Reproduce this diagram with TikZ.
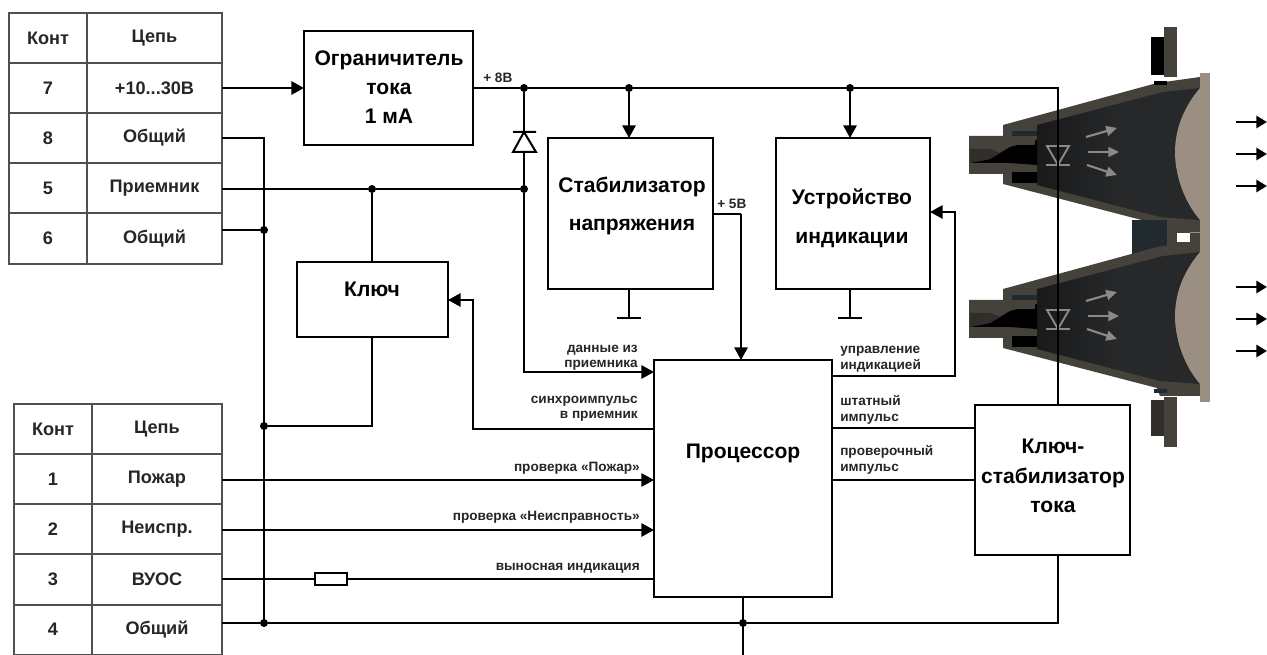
\documentclass[tikz,border=0pt]{standalone}
\usepackage{fontspec}
\setmainfont{Liberation Sans}
\usetikzlibrary{arrows.meta,calc}
\definecolor{wallc}{HTML}{45423C}
\definecolor{innerc}{HTML}{26282A}
\definecolor{lensc}{HTML}{9A8F82}
\definecolor{blockc}{HTML}{212A2E}
\definecolor{ledc}{HTML}{8A8A86}
\definecolor{tablec}{HTML}{505050}
\tikzset{
  wire/.style={line width=1.5pt,draw=black},
  arr/.style={wire,-{Triangle[length=9.5pt,width=10pt]}},
  blockbox/.style={draw,line width=1.4pt,fill=white,inner sep=0pt,outer sep=0pt},
  blocktext/.style={inner sep=0pt,align=center,font=\fontsize{15.8}{21.5}\selectfont\bfseries},
  cellbox/.style={draw=tablec,line width=1.2pt,inner sep=0pt,outer sep=0pt,font=\fontsize{13.6}{15}\selectfont\bfseries,text=black!85},
  lbl/.style={inner sep=0pt,text=black!85,font=\fontsize{10.2}{11.6}\selectfont\bfseries},
  dot/.style={circle,fill=black,inner sep=0pt,minimum size=6pt},
  ledarrow/.style={line width=1.6pt,draw=ledc,-{Triangle[length=8pt,width=7.5pt]}},
  outarrow/.style={line width=2pt,-{Triangle[length=8pt,width=9pt]}}
}
\newcommand{\cellat}[6]{% name x1 x2 y1 y2 text
  \node[cellbox,minimum width=#3pt*0.75-#2pt*0.75,minimum height=#5pt*0.75-#4pt*0.75,anchor=north west] (#1) at (#2,#4) {#6};}
\newcommand{\lenscone}[1]{%
\begin{scope}[yshift=#1]
  \fill[wallc] (969,136) -- (1003,136) -- (1003,125) -- (1157,83) -- (1200,77) -- (1200,232) -- (1160,232) -- (1157,224) -- (1003,184) -- (1003,174) -- (969,174) -- cycle;
  \shade[left color=black!90,right color=innerc,shading angle=90,middle color=innerc] (1037,125) -- (1163,92) -- (1200,88) -- (1200,220) -- (1160,217) -- (1037,185) -- cycle;
  \fill[blockc] (1012,131) rectangle (1037,136);
  \fill[black] (1012,172) rectangle (1037,183);
  \fill[black] (970,163) -- (990,159) -- (1010,147) -- (1037,140) -- (1037,165) -- (1010,163) -- cycle;
  \fill[wallc!70!black] (970,149) -- (990,149) -- (1000,153) -- (990,159) -- (970,163) -- cycle;
  \fill[wallc] (1010,139) rectangle (1035,145);
  \fill[wallc] (1010,166) rectangle (1035,171);
  \fill[lensc] (1200,88) .. controls (1183,108) and (1175,130) .. (1175,152) .. controls (1175,178) and (1186,204) .. (1200,220) -- cycle;
  \draw[line width=1.6pt,draw=ledc] (1058,107) -- (1058,198);
  \draw[line width=1.4pt,draw=ledc] (1047,146) -- (1069,146) -- (1058,165) -- cycle;
  \draw[line width=1.6pt,draw=ledc] (1046,165) -- (1070,165);
  \draw[ledarrow] (1086,137) -- (1117,128);
  \draw[ledarrow] (1088,152) -- (1119,152);
  \draw[ledarrow] (1087,165) -- (1117,175);
\end{scope}}
\begin{document}
\begin{tikzpicture}[x=0.75pt,y=-0.75pt]
\useasboundingbox (0,0) rectangle (1267,655);
% housing
\draw[wire] (1058,88) -- (1058,405);
\lenscone{0pt}
\fill[blockc] (1132,220) rectangle (1167,262);
\fill[wallc] (1167,220) rectangle (1177,262);
\fill[wallc] (1177,232) rectangle (1210,250);
\lenscone{-123pt}
\fill[white] (1177,233) rectangle (1190,242);
\fill[wallc] (1164,27) rectangle (1177,77);
\fill[black] (1151,37) rectangle (1164,75);
\fill[black] (1154,81) rectangle (1167,85);
\fill[wallc] (1164,397) rectangle (1177,447);
\fill[wallc!70!black] (1151,400) rectangle (1164,436);
\fill[blockc] (1154,389) rectangle (1167,393);
\fill[lensc] (1200,73) rectangle (1210,402);
\fill[lensc] (1190,232) rectangle (1200,233);
% output arrows
\foreach \yy/\nn in {122/a,154/b,186/c,287/d,319/e,351/f}{
  \coordinate (o\nn s) at (1236,\yy);
  \coordinate (o\nn e) at (1267,\yy);
  \draw[outarrow] (o\nn s) -- (o\nn e);
}
% upper table
\cellat{hk}{9}{87}{13}{63}{Конт}
\cellat{hc}{87}{222}{13}{63}{Цепь}
\cellat{k7}{9}{87}{63}{113}{7}
\cellat{c7}{87}{222}{63}{113}{+10...30В}
\cellat{k8}{9}{87}{113}{163}{8}
\cellat{c8}{87}{222}{113}{163}{Общий}
\cellat{k5}{9}{87}{163}{213}{5}
\cellat{c5}{87}{222}{163}{213}{Приемник}
\cellat{k6}{9}{87}{213}{264}{6}
\cellat{c6}{87}{222}{213}{264}{Общий}
% lower table
\cellat{hk2}{14}{92}{404}{454}{Конт}
\cellat{hc2}{92}{222}{404}{454}{Цепь}
\cellat{k1}{14}{92}{454}{504}{1}
\cellat{c1}{92}{222}{454}{504}{Пожар}
\cellat{k2}{14}{92}{504}{554}{2}
\cellat{c2}{92}{222}{504}{554}{Неиспр.}
\cellat{k3}{14}{92}{554}{605}{3}
\cellat{c3}{92}{222}{554}{605}{ВУОС}
\cellat{k4}{14}{92}{605}{654.5}{4}
\cellat{c4}{92}{222}{605}{654.5}{Общий}
% blocks
\node[blockbox,minimum width=126.75pt,minimum height=85.5pt,anchor=north west] (lim) at (304,31) {};
\node[blocktext] (limt) at (389,87) {Ограничитель\\тока\\1 мА};
\node[blockbox,minimum width=123.75pt,minimum height=113.25pt,anchor=north west] (stab) at (548,138) {};
\node[blocktext,font=\fontsize{15.8}{29}\selectfont\bfseries] (stabt) at (632,206) {Стабилизатор\\напряжения};
\node[blockbox,minimum width=115.5pt,minimum height=113.25pt,anchor=north west] (ind) at (776,138) {};
\node[blocktext,font=\fontsize{15.8}{29}\selectfont\bfseries] (indt) at (852,218) {Устройство\\индикации};
\node[blockbox,minimum width=113.25pt,minimum height=56.25pt,anchor=north west] (key) at (297,262) {};
\node[blocktext] (keyt) at (372,289) {Ключ};
\node[blockbox,minimum width=133.5pt,minimum height=177.75pt,anchor=north west] (proc) at (654,360) {};
\node[blocktext] (proct) at (743,453) {Процессор};
\node[blockbox,minimum width=116.25pt,minimum height=112.5pt,anchor=north west] (ks) at (975,405) {};
\node[blocktext,font=\fontsize{15.8}{22.2}\selectfont\bfseries] (kst) at (1053,476) {Ключ-\\стабилизатор\\тока};
% junction dots
\node[dot] (j1) at (524,88) {};
\node[dot] (j2) at (629,88) {};
\node[dot] (j3) at (850,88) {};
\node[dot] (j4) at (372,189) {};
\node[dot] (j5) at (524,189) {};
\node[dot] (j6) at (264,230) {};
\node[dot] (j7) at (264,426) {};
\node[dot] (j8) at (264,623) {};
\node[dot] (j9) at (743,623) {};
% coordinates
\coordinate (sup) at (1058,88);
\coordinate (gnd) at (1058,623);
\coordinate (pd) at (743,655);
\coordinate (gs) at (629,318);
\coordinate (gi) at (850,318);
% wires
\draw[arr] (c7.east |- 0,88) -- (lim.west |- 0,88);
\draw[wire] (lim.east |- 0,88) -- (j1) -- (j2) -- (j3) -- (sup) -- (ks.north -| sup);
\draw[arr] (j2) -- (stab.north -| j2);
\draw[arr] (j3) -- (ind.north -| j3);
\draw[wire] (j1) -- (j5);
\draw[arr] (j5) |- (proc.west |- 0,372);
\draw[wire,fill=white] (513,132) -- (536,132) (524,132) -- (513,152) -- (536,152) -- cycle;
\draw[wire] (c8.east |- 0,138) -| (j8);
\draw[wire] (c6.east |- 0,230) -- (j6);
\draw[wire] (c5.east |- 0,189) -- (j4) -- (j5);
\draw[wire] (j4) -- (key.north -| j4);
\draw[wire] (key.south -| j4) |- (j7);
\draw[arr] (proc.west |- 0,429) -| (473,300) -- (key.east |- 0,300);
\draw[arr] (c1.east |- 0,480) -- (proc.west |- 0,480);
\draw[arr] (c2.east |- 0,530) -- (proc.west |- 0,530);
\node[draw,line width=1.2pt,fill=white,minimum width=24pt,minimum height=9pt,inner sep=0pt] (res) at (331,579) {};
\draw[wire] (c3.east |- res) -- (res);
\draw[wire] (res) -- (proc.west |- res);
\draw[wire] (c4.east |- gnd) -- (j8) -- (j9) -- (gnd) -- (ks.south -| gnd);
\draw[wire] (proc.south -| pd) -- (pd);
\draw[wire] (stab.east |- 0,214) -- (741,214);
\draw[arr] (741,214) -- (proc.north -| 741,0);
\draw[wire] (stab.south -| gs) -- (gs);
\draw[line width=2.2pt] ($(gs)+(-12,0)$) -- ($(gs)+(12,0)$);
\draw[wire] (ind.south -| gi) -- (gi);
\draw[line width=2.2pt] ($(gi)+(-12,0)$) -- ($(gi)+(12,0)$);
\draw[arr] (proc.east |- 0,376) -| (955,212) -- (ind.east |- 0,212);
\draw[wire] (proc.east |- 0,428) -- (ks.west |- 0,428);
\draw[wire] (proc.east |- 0,480) -- (ks.west |- 0,480);
% labels
\node[lbl,anchor=west] (l8) at (483,78) {+ 8В};
\node[lbl,anchor=west] (l5) at (717,204) {+ 5В};
\node[lbl,anchor=east,align=right] (l1) at (638,358) {данные из\\приемника};
\node[lbl,anchor=east,align=right] (l2) at (638,409) {синхроимпульс\\в приемник};
\node[lbl,anchor=east] (l3) at (640,468) {проверка «Пожар»};
\node[lbl,anchor=east] (l4) at (640,517) {проверка «Неисправность»};
\node[lbl,anchor=east] (l6) at (640,568) {выносная индикация};
\node[lbl,anchor=west,align=left] (r1) at (840,359) {управление\\индикацией};
\node[lbl,anchor=west,align=left] (r2) at (840,410) {штатный\\импульс};
\node[lbl,anchor=west,align=left] (r3) at (840,460) {проверочный\\импульс};
\end{tikzpicture}
\end{document}
